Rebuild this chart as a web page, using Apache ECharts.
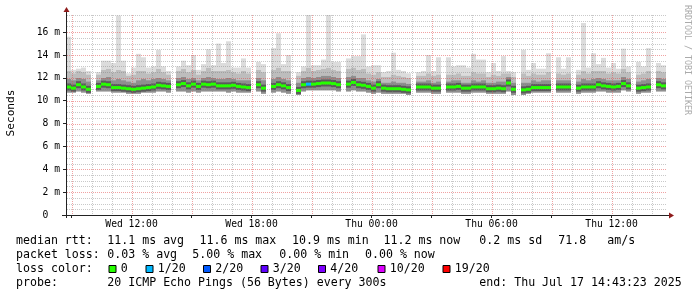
<!DOCTYPE html>
<html><head><meta charset="utf-8">
<script src="https://cdn.jsdelivr.net/npm/echarts@6/dist/echarts.min.js"></script>
<style>html,body{margin:0;padding:0;background:#fff}#c{width:697px;height:297px}</style>
</head><body><div id="c"></div><script>
// ---- time axis (hours counted from Wed 00:00) ----
const startHour = 8 + 43/60 + 23/3600;   // Wed 08:43:23
const endHour = startHour + 30;          // Thu 14:43:23
const stepHours = 0.25;                  // one smoke column = 15 min
const xLabelHours = [12, 18, 24, 30, 36];
const xLabels = ['Wed 12:00', 'Wed 18:00', 'Thu 00:00', 'Thu 06:00', 'Thu 12:00'];
const yTickValues = [0, 2, 4, 6, 8, 10, 12, 14, 16];
const yLabels = ['0  ', '2 m', '4 m', '6 m', '8 m', '10 m', '12 m', '14 m', '16 m'];
const yMax = 17.5;

// ---- data (milliseconds) ----
const medianMs = [
 11.2,11.1,11.4,11.2,11.0,null,11.25,11.45,11.4,11.15,
 11.15,11.1,11.05,11.0,11.05,11.1,11.15,11.2,11.35,11.3,
 11.25,null,11.4,11.5,11.3,11.45,11.25,11.45,11.4,11.45,
 11.3,11.3,11.3,11.35,11.25,11.2,11.15,null,11.4,11.1,
 null,11.25,11.4,11.3,11.15,null,10.9,11.4,11.45,11.45,
 11.5,11.55,11.55,11.5,11.4,null,11.45,11.6,11.4,11.35,
 11.25,11.1,11.4,11.1,11.05,11.05,11.05,11.0,10.95,null,
 11.2,11.2,11.2,11.1,11.1,null,11.2,11.2,11.25,11.1,
 11.1,11.2,11.2,11.2,11.05,11.05,11.1,11.05,11.55,11.0,
 null,10.95,11.0,11.15,11.15,11.15,11.15,null,11.2,11.2,
 11.2,null,11.1,11.2,11.2,11.2,11.4,11.3,11.25,11.2,
 11.25,11.5,11.3,null,11.1,11.15,11.2,null,11.4,11.3];
const lowMs = [
 10.7,10.7,10.8,10.7,10.6,null,10.8,10.8,10.8,10.7,
 10.7,10.7,10.6,10.6,10.6,10.7,10.7,10.7,10.8,10.8,
 10.7,null,10.8,10.8,10.7,10.8,10.7,10.8,10.8,10.8,
 10.8,10.8,10.7,10.8,10.7,10.7,10.7,null,10.8,10.6,
 null,10.7,10.8,10.7,10.6,null,10.5,10.8,10.9,10.9,
 10.9,10.9,10.9,10.9,10.8,null,10.8,10.9,10.8,10.8,
 10.7,10.6,10.7,10.6,10.6,10.6,10.6,10.6,10.5,null,
 10.7,10.7,10.7,10.6,10.6,null,10.7,10.7,10.7,10.6,
 10.6,10.7,10.7,10.7,10.6,10.6,10.6,10.6,10.8,10.5,
 null,10.5,10.6,10.7,10.7,10.7,10.7,null,10.7,10.7,
 10.7,null,10.6,10.7,10.7,10.7,10.8,10.8,10.7,10.7,
 10.7,10.9,10.8,null,10.6,10.7,10.7,null,10.8,10.8];
const darkTopMs = [
 11.9,11.8,12.0,11.9,11.7,null,11.8,12.0,12.1,11.8,
 11.9,11.8,11.7,11.6,11.8,11.9,11.8,11.9,12.0,11.9,
 11.8,null,12.0,12.1,11.9,12.0,11.8,12.0,12.1,12.0,
 11.9,11.9,12.0,11.9,11.8,11.8,11.8,null,12.0,11.8,
 null,11.9,12.1,11.9,11.8,null,11.6,12.0,12.1,12.0,
 12.1,12.2,12.2,12.1,12.0,null,12.1,12.2,12.0,12.0,
 11.8,11.7,11.9,11.6,11.6,11.7,11.6,11.6,11.5,null,
 11.7,11.7,11.8,11.6,11.7,null,11.7,11.8,11.8,11.6,
 11.6,11.8,11.7,11.8,11.6,11.6,11.7,11.7,12.1,11.6,
 null,11.6,11.6,11.8,11.7,11.8,11.8,null,11.8,11.8,
 11.8,null,11.7,11.9,11.8,11.9,12.0,11.9,11.8,11.8,
 11.8,12.1,11.9,null,11.7,11.8,11.9,null,12.0,11.9];
const midTopMs = [
 12.6,12.4,12.6,12.5,12.3,null,12.3,12.7,12.8,12.5,
 12.7,12.6,12.2,12.3,12.6,12.6,12.4,12.5,12.8,12.5,
 12.3,null,12.6,12.8,12.5,12.7,12.3,12.6,12.9,12.6,
 12.6,12.6,12.7,12.5,12.4,12.6,12.4,null,12.7,12.5,
 null,12.7,12.9,12.6,12.6,null,12.2,12.6,12.9,12.6,
 12.7,12.8,12.9,12.7,12.6,null,12.8,12.9,12.7,12.8,
 12.4,12.3,12.5,12.1,12.1,12.3,12.2,12.1,12.0,null,
 12.2,12.2,12.4,12.2,12.3,null,12.3,12.3,12.4,12.2,
 12.2,12.5,12.4,12.4,12.1,12.3,12.2,12.4,12.4,12.1,
 null,12.4,12.2,12.4,12.3,12.3,12.5,null,12.4,12.3,
 12.4,null,12.3,12.6,12.4,12.6,12.6,12.6,12.4,12.5,
 12.4,12.8,12.5,null,12.3,12.4,12.6,null,12.6,12.5];
const highMs = [
 15.6,12.7,12.8,12.9,12.6,null,12.5,13.5,13.5,13.3,
 17.45,13.5,12.4,12.9,14.1,13.8,12.9,13.0,14.45,13.0,
 12.6,null,13.0,13.5,13.1,14.0,12.7,13.2,14.5,13.1,
 15.0,13.3,15.2,12.9,12.9,13.7,12.9,null,13.4,13.2,
 null,14.6,15.9,13.2,14.0,null,12.5,13.0,17.5,13.1,
 13.1,13.6,17.5,13.4,13.4,null,13.7,13.9,13.9,15.8,
 13.0,13.1,13.1,12.5,12.6,14.2,12.7,12.6,12.4,null,
 12.5,12.6,14.0,12.6,13.8,null,13.8,13.0,13.1,13.1,
 12.9,14.1,13.6,13.6,12.5,13.3,12.6,13.9,12.6,12.5,
 null,14.45,12.7,13.3,12.8,12.8,14.15,null,13.8,12.8,
 13.8,null,12.7,16.8,12.9,14.15,13.2,13.75,12.9,13.3,
 12.8,14.55,13.0,null,13.4,13.0,14.6,null,13.3,13.1];
const lossColumns = [48];      // columns with packet loss
const lossCounts  = [1];       // lost pings (of 20) in those columns

const lossLevels = ['0', '1/20', '2/20', '3/20', '4/20', '10/20', '19/20'];
const lossThresholds = [0, 1, 2, 3, 4, 10, 19];
const lossColors = ['#26ff00', '#00b8ff', '#0059ff', '#5e00ff', '#7e00ff', '#dd00ff', '#ff0000'];

const statLabels = ['median rtt:', 'packet loss:', 'loss color:', 'probe:'];
const rttStats = ['11.1 ms avg', '11.6 ms max', '10.9 ms min', '11.2 ms now', '0.2 ms sd', '71.8', 'am/s'];
const lossStats = ['0.03 % avg', '5.00 % max', '0.00 % min', '0.00 % now'];
const probeText = '20 ICMP Echo Pings (56 Bytes) every 300s';
const endText = 'end: Thu Jul 17 14:43:23 2025';

// ---- build series data from the arrays ----
function lossColor(n) {
  let c = lossColors[0];
  for (let k = 0; k < lossThresholds.length; k++) if (n >= lossThresholds[k]) c = lossColors[k];
  return c;
}
const smokeData = [], medianData = [];
for (let i = 0; i < medianMs.length; i++) {
  if (medianMs[i] == null) continue;
  const t0 = startHour + i * stepHours, t1 = t0 + stepHours;
  smokeData.push([t0, t1, lowMs[i], darkTopMs[i], midTopMs[i], highMs[i], medianMs[i]]);
  const li = lossColumns.indexOf(i);
  medianData.push([t0, t1, medianMs[i], li >= 0 ? lossCounts[li] : 0]);
}
const gridLineData = [];
for (let v = 0.5; v <= yMax + 1e-9; v += 0.5) gridLineData.push(['y', v]);
for (let h = Math.ceil(startHour); h <= endHour; h++) gridLineData.push(['x', h]);

const GL = 66, GT = 15, GW = 600, GH = 200;
const MONO = '"DejaVu Sans Mono", monospace';
const FONT = '11.6px ' + MONO;

const chart = echarts.init(document.getElementById('c'), null, {renderer: 'canvas'});

const graphics = [];
// axis lines + arrows
graphics.push({type: 'line', shape: {x1: GL - 4, y1: GT + GH + 0.5, x2: GL + GW + 4, y2: GT + GH + 0.5}, style: {stroke: '#222', lineWidth: 1}, z: 50});
graphics.push({type: 'line', shape: {x1: GL + 0.5, y1: GT + GH + 3, x2: GL + 0.5, y2: GT - 4}, style: {stroke: '#222', lineWidth: 1}, z: 50});
graphics.push({type: 'polygon', shape: {points: [[GL + GW + 3, GT + GH - 2.5], [GL + GW + 8, GT + GH + 0.5], [GL + GW + 3, GT + GH + 3.5]]}, style: {fill: '#8e1b1b'}, z: 51});
graphics.push({type: 'polygon', shape: {points: [[GL - 2.5, GT - 3], [GL + 0.5, GT - 8], [GL + 3.5, GT - 3]]}, style: {fill: '#8e1b1b'}, z: 51});
// unit + watermark
graphics.push({type: 'text', x: 11, y: 113, rotation: Math.PI / 2, style: {text: 'Seconds', font: '11.1px ' + MONO, fill: '#000', align: 'center', verticalAlign: 'middle'}});
graphics.push({type: 'text', x: 687, y: 5, rotation: -Math.PI / 2, style: {text: 'RRDTOOL / TOBI OETIKER', font: '8.3px ' + MONO, fill: '#aaaaaa', align: 'left', verticalAlign: 'middle'}});
// legend rows
const rowY = [241, 255, 269, 283];
statLabels.forEach((t, k) => graphics.push({type: 'text', x: 16, y: rowY[k], style: {text: t, font: FONT, fill: '#000', verticalAlign: 'middle'}}));
const rttX = [107.3, 199.5, 292, 383.5, 479.3, 558.3, 607.3];
rttStats.forEach((t, k) => graphics.push({type: 'text', x: rttX[k], y: rowY[0], style: {text: t, font: FONT, fill: '#000', verticalAlign: 'middle'}}));
const lossX = [107.3, 192.3, 279.3, 365];
lossStats.forEach((t, k) => graphics.push({type: 'text', x: lossX[k], y: rowY[1], style: {text: t, font: FONT, fill: '#000', verticalAlign: 'middle'}}));
const boxX = [108.5, 145.5, 203, 260.5, 318, 377.5, 442.5];
lossLevels.forEach((t, k) => {
  graphics.push({type: 'rect', shape: {x: boxX[k] + 0.5, y: 265.5, width: 7, height: 7}, style: {fill: lossColors[k], stroke: '#000', lineWidth: 1}});
  graphics.push({type: 'text', x: boxX[k] + 12.3, y: rowY[2], style: {text: t, font: FONT, fill: '#000', verticalAlign: 'middle'}});
});
graphics.push({type: 'text', x: 107.3, y: rowY[3], style: {text: probeText, font: FONT, fill: '#000', verticalAlign: 'middle'}});
graphics.push({type: 'text', x: 479.3, y: rowY[3], style: {text: endText, font: FONT, fill: '#000', verticalAlign: 'middle'}});

chart.setOption({
  animation: false,
  backgroundColor: '#ffffff',
  grid: {left: GL, top: GT, width: GW, height: GH, containLabel: false},
  xAxis: {
    type: 'value', min: startHour, max: endHour,
    axisLine: {show: false},
    splitLine: {show: false},
    axisTick: {show: true, length: 3, lineStyle: {color: '#222'}, customValues: [9, 12, 15, 18, 21, 24, 27, 30, 33, 36]},
    axisLabel: {show: true, customValues: xLabelHours, margin: 4, fontFamily: 'DejaVu Sans Mono', fontSize: 9.7, color: '#000',
      formatter: v => { const k = xLabelHours.indexOf(Math.round(v)); return k >= 0 ? xLabels[k] : ''; }}
  },
  yAxis: {
    type: 'value', min: 0, max: yMax,
    axisLine: {show: false},
    splitLine: {show: false},
    axisTick: {show: true, length: 3, lineStyle: {color: '#222'}, customValues: yTickValues},
    axisLabel: {show: true, customValues: yTickValues, margin: 6, fontFamily: 'DejaVu Sans Mono', fontSize: 9.7, color: '#000',
      formatter: v => { const k = yTickValues.indexOf(Math.round(v)); return k >= 0 ? yLabels[k] : ''; }}
  },
  series: [
    {
      type: 'custom', name: 'smoke', z: 1, silent: true,
      encode: {x: [0, 1], y: [2, 3, 4, 5]},
      data: smokeData,
      renderItem: (params, api) => {
        const t0 = api.value(0), t1 = api.value(1);
        const a = api.coord([t0, api.value(2)]);
        const b = api.coord([t1, api.value(3)]);
        const c = api.coord([t1, api.value(4)]);
        const d = api.coord([t1, api.value(5)]);
        const m = api.coord([t1, api.value(6)]);
        const x = a[0], w = b[0] - a[0];
        return {type: 'group', children: [
          {type: 'rect', shape: {x: x, y: d[1], width: w, height: c[1] - d[1]}, style: {fill: '#dcdcdc'}},
          {type: 'rect', shape: {x: x, y: c[1], width: w, height: b[1] - c[1]}, style: {fill: '#bdbdbd'}},
          {type: 'rect', shape: {x: x, y: b[1], width: w, height: a[1] - b[1]}, style: {fill: '#8f8f8f'}},
          {type: 'rect', shape: {x: x, y: m[1] - 3.5, width: w, height: 7}, style: {fill: '#5a5a5a'}}
        ]};
      }
    },
    {
      type: 'custom', name: 'grid', z: 2, silent: true,
      data: gridLineData,
      encode: {x: 1},
      renderItem: (params, api) => {
        const cs = params.coordSys;
        const kind = gridLineData[params.dataIndex][0];
        const v = gridLineData[params.dataIndex][1];
        if (kind === 'y') {
          const yy = Math.round(api.coord([startHour, v])[1]) + 0.5;
          const major = Math.abs(v / 2 - Math.round(v / 2)) < 1e-6;
          return {type: 'line', shape: {x1: cs.x + 1, y1: yy, x2: cs.x + cs.width, y2: yy},
            style: {stroke: major ? 'rgba(225,70,70,0.5)' : 'rgba(120,120,120,0.4)', lineWidth: 1, lineDash: [1, 1]}};
        } else {
          const xx = Math.round(api.coord([v, 0])[0]) + 0.5;
          const major = v % 3 === 0;
          return {type: 'line', shape: {x1: xx, y1: cs.y, x2: xx, y2: cs.y + cs.height},
            style: {stroke: major ? 'rgba(225,70,70,0.5)' : 'rgba(120,120,120,0.4)', lineWidth: 1, lineDash: [1, 1]}};
        }
      }
    },
    {
      type: 'custom', name: 'median', z: 3, silent: true,
      encode: {x: [0, 1], y: 2},
      data: medianData,
      renderItem: (params, api) => {
        const a = api.coord([api.value(0), api.value(2)]);
        const b = api.coord([api.value(1), api.value(2)]);
        return {type: 'rect', shape: {x: a[0], y: a[1] - 1.5, width: b[0] - a[0], height: 3},
          style: {fill: lossColor(api.value(3))}};
      }
    }
  ],
  graphic: graphics
});
</script></body></html>
